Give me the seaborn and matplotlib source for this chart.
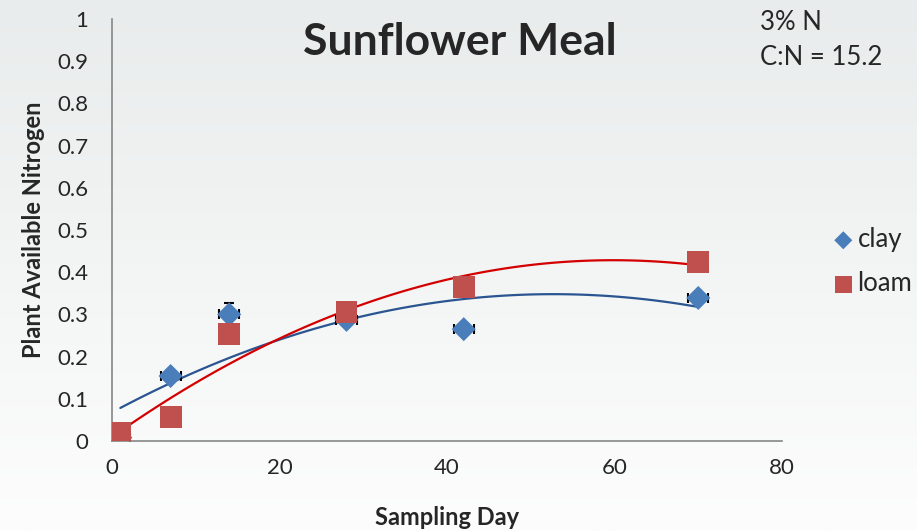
import numpy as np
import pandas as pd
import matplotlib
matplotlib.use("Agg")
import matplotlib.pyplot as plt
import seaborn as sns

# -----------------------------
# Data
# -----------------------------
days = [1, 7, 14, 28, 42, 70]
clay = [0.008, 0.154, 0.300, 0.287, 0.265, 0.339]
clay_err = [0.005, 0.010, 0.027, 0.010, 0.008, 0.010]
loam = [0.020, 0.057, 0.253, 0.306, 0.365, 0.424]

df = pd.DataFrame({"day": days, "clay": clay, "loam": loam})

sns.set_theme(style="white")
plt.rcParams["font.family"] = ["Lato", "DejaVu Sans"]

fig = plt.figure(figsize=(9.17, 5.31), dpi=100)

# soft grey-to-white background
bg = fig.add_axes([0, 0, 1, 1], zorder=-10)
grad = np.linspace(0, 1, 256).reshape(-1, 1)
bg.imshow(grad, aspect="auto", cmap=matplotlib.colors.LinearSegmentedColormap.from_list(
    "bg", ["#e9ecec", "#fdfdfd"]), extent=[0, 1, 0, 1])
bg.axis("off")

ax = fig.add_axes([0.1221, 0.1695, 0.7307, 0.7947])
ax.patch.set_alpha(0)

# trend lines (2nd order polynomial)
sns.regplot(data=df, x="day", y="clay", order=2, ci=None, scatter=False,
            truncate=True, color="#2a5590", line_kws={"lw": 1.6}, ax=ax)
sns.regplot(data=df, x="day", y="loam", order=2, ci=None, scatter=False,
            truncate=True, color="#d40000", line_kws={"lw": 1.6}, ax=ax)

# error bars for clay (sit behind the diamonds, caps peek out)
ax.errorbar(days, clay, yerr=clay_err, xerr=1.2, fmt="none", ecolor="black",
            elinewidth=1, capsize=3.5, capthick=1.5, zorder=2.5)

sns.scatterplot(data=df, x="day", y="clay", marker="D", s=150,
                color="#4a7ebb", edgecolor="none", ax=ax, zorder=3, label="clay")
sns.scatterplot(data=df, x="day", y="loam", marker="s", s=250,
                color="#c0504d", edgecolor="none", ax=ax, zorder=4, label="loam")

ax.set_xlim(0, 80)
ax.set_ylim(0, 1)
ax.set_xticks([0, 20, 40, 60, 80])
ax.set_yticks(np.arange(0, 1.01, 0.1))
ax.set_yticklabels(["0", "0.1", "0.2", "0.3", "0.4", "0.5", "0.6", "0.7", "0.8", "0.9", "1"])

for side in ["top", "right"]:
    ax.spines[side].set_visible(False)
for side in ["left", "bottom"]:
    ax.spines[side].set_color("#868686")
    ax.spines[side].set_linewidth(1.2)
ax.tick_params(axis="both", which="major", direction="out", length=6,
               width=1.2, color="#868686", labelsize=16, pad=6)
ax.tick_params(axis="y", pad=11)

ax.set_xlabel("Sampling Day", fontsize=17, fontweight="bold")
ax.set_ylabel("Plant Available Nitrogen", fontsize=17, fontweight="bold")
ax.xaxis.set_label_coords(0.5, -0.155)
ax.yaxis.set_label_coords(-0.1, 0.5)

fig.text(0.501, 0.92, "Sunflower Meal", fontsize=32, fontweight="bold",
         ha="center", va="center")
fig.text(0.829, 0.958, "3% N", fontsize=18.5, ha="left", va="center")
fig.text(0.829, 0.892, "C:N = 15.2", fontsize=18.5, ha="left", va="center")

leg = ax.legend(loc="center left", bbox_to_anchor=(1.055, 0.425), frameon=False,
                fontsize=18.5, handletextpad=0.0, labelspacing=0.75,
                borderaxespad=0.0, markerscale=0.75, handlelength=1.1)

fig.savefig("out.png", dpi=100)
